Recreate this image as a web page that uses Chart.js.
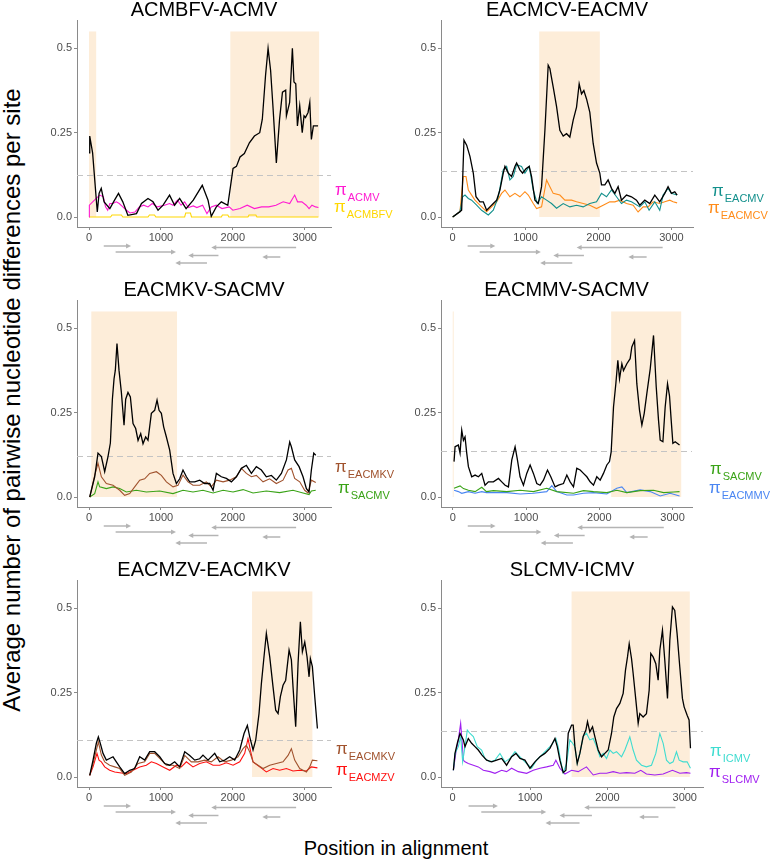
<!DOCTYPE html>
<html>
<head>
<meta charset="utf-8">
<script src="https://cdn.jsdelivr.net/npm/chart.js@4.4.1/dist/chart.umd.min.js"></script>
<style>
html,body{margin:0;padding:0;background:#fff;}
body{width:777px;height:862px;position:relative;overflow:hidden;font-family:"Liberation Sans",Arial,sans-serif;}
canvas{position:absolute;}
#xtitle{position:absolute;left:196px;width:400px;top:838px;text-align:center;font-size:20px;line-height:20px;color:#000;white-space:nowrap;}
#ytitle{position:absolute;left:-338px;top:387px;width:700px;height:26px;line-height:26px;text-align:center;font-size:24px;color:#000;white-space:nowrap;transform:rotate(-90deg);transform-origin:50% 50%;}
</style>
</head>
<body>
<div id="ytitle">Average number of pairwise nucleotide differences per site</div>
<div id="xtitle">Position in alignment</div>
<script>
// ---------------- DATA ----------------
const PANEL_TITLES = ['ACMBFV-ACMV','EACMCV-EACMV','EACMKV-SACMV','EACMMV-SACMV','EACMZV-EACMKV','SLCMV-ICMV'];
const Y_TICKS = [0, 0.25, 0.5];
const Y_TICK_LABELS = ['0.0', '0.25', '0.5'];
const X_TICKS = [0, 1000, 2000, 3000];

// genes (DNA-A ORFs) drawn as arrows under each panel
const GENE_NAMES = ['AV2','AV1','AC3','AC1','AC4','AC2'];
const GENE_START = [205, 370, 1800, 2880, 2660, 1640];
const GENE_END   = [585, 1210, 1380, 1700, 2410, 1200];

// Panel 1: ACMBFV-ACMV
const P1_REGIONS = [[0, 100], [1965, 3200]];
const P1_THRESHOLD = 0.124;
const P1_DXY_POS = [0,10,50,115,140,170,210,290,355,410,470,540,660,730,820,890,960,1030,1120,1190,1260,1350,1450,1575,1655,1700,1770,1840,1930,2003,2050,2100,2160,2230,2300,2374,2410,2455,2490,2525,2560,2605,2650,2690,2735,2745,2790,2828,2850,2875,2898,2930,2965,2990,3010,3046,3070,3092,3120,3185];
const P1_DXY_VAL = [0.19,0.24,0.19,0.015,0.07,0.085,0.045,0.025,0.05,0.07,0.045,0.005,0.01,0.04,0.055,0.045,0.02,0.035,0.065,0.035,0.055,0.025,0.05,0.094,0.05,0.002,0.03,0.045,0.035,0.144,0.15,0.178,0.188,0.22,0.24,0.25,0.29,0.42,0.5,0.435,0.32,0.16,0.29,0.37,0.376,0.30,0.34,0.5,0.40,0.395,0.27,0.33,0.25,0.30,0.295,0.31,0.34,0.23,0.27,0.27];
const P1_PI_ACMV_POS = [0,5,100,150,200,230,260,290,330,380,420,470,520,570,640,700,760,820,880,950,1050,1120,1170,1230,1280,1330,1380,1450,1500,1580,1640,1700,1770,1850,1950,2000,2100,2200,2300,2400,2500,2600,2700,2790,2860,2900,2960,3020,3060,3100,3150,3190];
const P1_PI_ACMV_VAL = [0,0.035,0.055,0.065,0.06,0.03,0.02,0.04,0.04,0.045,0.04,0.03,0.02,0.012,0.015,0.03,0.035,0.03,0.04,0.03,0.035,0.04,0.035,0.05,0.035,0.045,0.028,0.033,0.028,0.035,0.01,0.03,0.035,0.025,0.03,0.02,0.025,0.035,0.025,0.03,0.03,0.035,0.045,0.04,0.065,0.045,0.045,0.035,0.025,0.035,0.03,0.028];
const P1_PI_ACMBFV_POS = [0,300,320,450,470,820,840,910,930,1330,1345,1410,1425,1840,1855,1930,1945,2210,2225,2320,2335,3190];
const P1_PI_ACMBFV_VAL = [0,0,0.006,0.006,0,0,0.006,0.006,0,0,0.012,0.012,0,0,0.006,0.006,0,0,0.006,0.006,0,0];

// Panel 2: EACMCV-EACMV
const P2_REGIONS = [[1187, 2018]];
const P2_THRESHOLD = 0.137;
const P2_DXY_POS = [0,100,123,155,192,237,283,320,374,420,466,511,557,603,648,694,717,763,808,854,877,922,959,1005,1050,1082,1128,1174,1219,1265,1310,1333,1379,1425,1470,1516,1562,1607,1653,1699,1735,1767,1799,1836,1881,1927,1973,2018,2041,2087,2132,2178,2224,2269,2315,2384,2452,2521,2566,2635,2703,2772,2840,2909,2954,3000,3046,3078];
const P2_DXY_VAL = [0,0.016,0.02,0.228,0.213,0.18,0.13,0.06,0.045,0.045,0.02,0.03,0.04,0.05,0.08,0.13,0.15,0.13,0.12,0.15,0.16,0.14,0.13,0.143,0.15,0.12,0.05,0.04,0.09,0.257,0.45,0.44,0.385,0.327,0.257,0.24,0.247,0.237,0.287,0.326,0.395,0.365,0.375,0.35,0.31,0.218,0.16,0.13,0.095,0.095,0.11,0.085,0.07,0.09,0.05,0.065,0.06,0.05,0.035,0.05,0.04,0.065,0.045,0.07,0.09,0.07,0.075,0.065];
const P2_PI_EACMV_POS = [0,100,137,169,215,260,329,397,489,557,626,694,740,785,831,877,945,991,1050,1105,1160,1219,1288,1356,1425,1516,1607,1699,1790,1881,1973,2041,2110,2178,2247,2315,2384,2452,2566,2635,2694,2772,2840,2886,2954,3000,3078];
const P2_PI_EACMV_VAL = [0,0.016,0.06,0.065,0.055,0.05,0.035,0.02,0.006,0.02,0.06,0.14,0.15,0.11,0.12,0.155,0.15,0.13,0.15,0.08,0.04,0.06,0.05,0.04,0.026,0.04,0.03,0.035,0.03,0.04,0.045,0.07,0.06,0.08,0.06,0.04,0.05,0.045,0.03,0.045,0.02,0.045,0.02,0.065,0.085,0.07,0.065];
const P2_PI_EACMCV_POS = [0,100,146,183,215,260,306,374,466,534,603,671,717,785,854,922,991,1037,1105,1151,1219,1288,1333,1379,1470,1539,1630,1699,1790,1881,1973,2064,2155,2224,2292,2384,2475,2543,2612,2680,2749,2840,2909,2977,3023,3078];
const P2_PI_EACMCV_VAL = [0,0.016,0.12,0.12,0.08,0.065,0.05,0.035,0.016,0.03,0.045,0.07,0.08,0.06,0.07,0.06,0.075,0.065,0.04,0.025,0.03,0.11,0.09,0.07,0.065,0.05,0.05,0.045,0.04,0.035,0.025,0.035,0.045,0.045,0.05,0.04,0.035,0.015,0.03,0.03,0.045,0.04,0.045,0.05,0.045,0.042];

// Panel 3: EACMKV-SACMV
const P3_REGIONS = [[32, 1224]];
const P3_THRESHOLD = 0.122;
const P3_DXY_POS = [10,79,125,172,218,264,297,325,348,366,389,417,450,487,510,542,575,612,649,682,719,751,788,820,867,913,946,974,1006,1038,1076,1122,1168,1215,1261,1307,1354,1400,1470,1539,1608,1678,1725,1771,1840,1910,1980,2049,2119,2188,2258,2327,2397,2466,2536,2605,2675,2745,2791,2814,2860,2921,2976,3023,3060,3092,3125,3153];
const P3_DXY_VAL = [0,0.06,0.13,0.12,0.075,0.12,0.16,0.29,0.35,0.376,0.455,0.376,0.31,0.213,0.29,0.31,0.297,0.218,0.203,0.168,0.188,0.158,0.178,0.168,0.248,0.257,0.287,0.257,0.248,0.208,0.178,0.139,0.07,0.04,0.054,0.08,0.06,0.045,0.045,0.05,0.04,0.04,0.02,0.07,0.06,0.055,0.045,0.06,0.085,0.094,0.07,0.09,0.08,0.06,0.064,0.05,0.07,0.11,0.163,0.149,0.11,0.09,0.06,0.025,0.015,0.08,0.13,0.124];
const P3_PI_EACMKV_POS = [10,79,125,172,241,334,427,496,566,635,705,774,844,937,1006,1076,1168,1238,1307,1377,1446,1539,1632,1701,1771,1864,1956,2049,2119,2188,2258,2327,2420,2512,2605,2698,2768,2814,2860,2930,2999,3046,3092,3153];
const P3_PI_EACMKV_VAL = [0,0.064,0.1,0.06,0.04,0.035,0.02,0.005,0.01,0.03,0.05,0.054,0.07,0.075,0.064,0.045,0.03,0.035,0.065,0.045,0.035,0.035,0.045,0.03,0.05,0.045,0.05,0.06,0.085,0.07,0.06,0.064,0.045,0.054,0.04,0.05,0.08,0.085,0.055,0.045,0.02,0.012,0.05,0.043];
const P3_PI_SACMV_POS = [10,79,125,148,241,334,427,519,658,797,983,1168,1307,1446,1585,1725,1864,2003,2142,2281,2466,2651,2837,2976,3060,3092,3153];
const P3_PI_SACMV_VAL = [0,0.01,0.045,0.03,0.025,0.03,0.025,0.015,0.02,0.015,0.018,0.01,0.02,0.015,0.02,0.012,0.02,0.015,0.022,0.012,0.018,0.013,0.02,0.012,0.007,0.018,0.02];

// Panel 4: EACMMV-SACMV
const P4_REGIONS = [[0, 10], [2162, 3118]];
const P4_THRESHOLD = 0.136;
const P4_DXY_POS = [18,32,77,100,123,146,168,191,214,259,305,351,396,441,487,555,624,669,715,760,806,851,883,919,965,1010,1056,1101,1147,1192,1238,1293,1338,1397,1443,1511,1557,1602,1648,1693,1739,1784,1830,1875,1921,1966,2012,2057,2103,2139,2162,2194,2226,2253,2276,2308,2330,2376,2421,2444,2481,2512,2549,2581,2613,2649,2695,2740,2777,2808,2831,2868,2899,2931,2958,2981,3004,3036,3095];
const P4_DXY_VAL = [0.105,0.149,0.154,0.13,0.198,0.168,0.178,0.13,0.09,0.06,0.065,0.06,0.07,0.035,0.045,0.045,0.055,0.045,0.035,0.03,0.11,0.149,0.11,0.06,0.035,0.07,0.095,0.07,0.04,0.035,0.05,0.08,0.06,0.03,0.035,0.04,0.065,0.045,0.03,0.085,0.08,0.07,0.06,0.045,0.035,0.06,0.05,0.07,0.095,0.105,0.134,0.267,0.336,0.405,0.35,0.395,0.375,0.395,0.41,0.445,0.464,0.336,0.257,0.213,0.248,0.307,0.38,0.479,0.326,0.228,0.169,0.164,0.267,0.336,0.30,0.228,0.159,0.164,0.154];
const P4_PI_SACMV_POS = [18,100,146,214,305,396,460,555,738,919,1101,1283,1420,1648,1784,1921,2103,2239,2376,2558,2740,2877,3013,3095];
const P4_PI_SACMV_VAL = [0.026,0.033,0.025,0.02,0.016,0.029,0.016,0.019,0.016,0.02,0.016,0.026,0.016,0.011,0.019,0.016,0.013,0.02,0.013,0.019,0.02,0.013,0.015,0.016];
const P4_PI_EACMMV_POS = [18,77,123,214,305,396,460,738,919,1101,1283,1352,1420,1557,1648,1784,1921,2103,2239,2308,2376,2558,2695,2831,2968,3095];
const P4_PI_EACMMV_VAL = [0.02,0.016,0.011,0.016,0.011,0.016,0.013,0.013,0.009,0.011,0.016,0.034,0.016,0.006,0.006,0.011,0.013,0.009,0.026,0.03,0.013,0.021,0.016,0.003,0.011,0.003];

// Panel 5: EACMZV-EACMKV
const P5_REGIONS = [[2267, 3106]];
const P5_THRESHOLD = 0.109;
const P5_DXY_POS = [10,56,102,130,158,195,241,287,334,380,427,496,566,635,705,774,844,913,983,1052,1122,1191,1261,1331,1400,1470,1539,1585,1655,1748,1817,1887,1956,2026,2096,2156,2202,2235,2281,2318,2364,2397,2429,2466,2513,2559,2596,2629,2661,2698,2735,2782,2814,2837,2874,2907,2939,2967,3000,3032,3060,3078,3106,3139,3176];
const P5_DXY_VAL = [0.005,0.05,0.1,0.119,0.099,0.07,0.05,0.055,0.06,0.045,0.03,0.01,0.02,0.025,0.06,0.05,0.075,0.075,0.06,0.04,0.035,0.045,0.03,0.075,0.064,0.05,0.054,0.065,0.05,0.07,0.045,0.05,0.06,0.05,0.08,0.129,0.153,0.119,0.08,0.109,0.188,0.277,0.347,0.426,0.356,0.267,0.198,0.188,0.238,0.272,0.287,0.376,0.347,0.267,0.149,0.337,0.46,0.371,0.40,0.356,0.297,0.351,0.327,0.238,0.144];
const P5_PI_EACMKV_POS = [10,56,102,130,172,218,287,357,427,496,589,682,774,844,913,983,1076,1168,1261,1331,1423,1516,1608,1701,1794,1887,1980,2072,2142,2188,2235,2281,2350,2420,2513,2605,2698,2768,2814,2860,2930,3023,3069,3106,3176];
const P5_PI_EACMKV_VAL = [0.005,0.04,0.08,0.104,0.065,0.045,0.035,0.03,0.025,0.005,0.015,0.04,0.045,0.07,0.07,0.055,0.035,0.035,0.025,0.064,0.045,0.045,0.05,0.045,0.06,0.045,0.05,0.06,0.084,0.094,0.074,0.045,0.035,0.025,0.035,0.04,0.045,0.064,0.084,0.05,0.025,0.015,0.03,0.05,0.048];
const P5_PI_EACMZV_POS = [10,56,111,139,172,218,287,357,450,519,612,705,797,867,937,1030,1122,1215,1284,1354,1446,1539,1632,1725,1817,1910,2003,2096,2165,2211,2244,2281,2374,2466,2559,2651,2745,2837,2930,3023,3092,3176];
const P5_PI_EACMZV_VAL = [0.005,0.03,0.07,0.05,0.045,0.03,0.02,0.015,0.012,0.01,0.02,0.03,0.035,0.045,0.04,0.03,0.02,0.035,0.03,0.045,0.03,0.04,0.045,0.035,0.035,0.042,0.035,0.045,0.07,0.114,0.08,0.045,0.03,0.015,0.025,0.02,0.025,0.018,0.02,0.018,0.03,0.027];

// Panel 6: SLCMV-ICMV
const P6_REGIONS = [[1537, 3065]];
const P6_THRESHOLD = 0.136;
const P6_DXY_POS = [9,30,60,95,116,138,159,202,245,288,331,379,439,504,568,633,697,762,818,870,934,999,1063,1128,1192,1257,1322,1352,1386,1429,1464,1494,1537,1558,1580,1610,1644,1687,1722,1743,1773,1808,1838,1881,1924,1967,2010,2053,2083,2118,2161,2204,2234,2260,2282,2312,2333,2368,2398,2419,2462,2505,2540,2561,2591,2626,2656,2678,2712,2742,2777,2807,2841,2871,2901,2936,2970,2992,3031,3056,3074];
const P6_DXY_VAL = [0.02,0.07,0.1,0.129,0.12,0.11,0.09,0.114,0.1,0.09,0.08,0.065,0.05,0.045,0.05,0.055,0.035,0.06,0.07,0.055,0.05,0.026,0.045,0.06,0.07,0.085,0.114,0.09,0.05,0.013,0.02,0.13,0.154,0.154,0.09,0.04,0.07,0.12,0.139,0.164,0.134,0.149,0.12,0.08,0.06,0.07,0.08,0.129,0.178,0.203,0.218,0.248,0.317,0.356,0.395,0.351,0.307,0.228,0.159,0.188,0.178,0.188,0.257,0.366,0.356,0.336,0.287,0.376,0.435,0.346,0.233,0.405,0.504,0.494,0.425,0.326,0.233,0.208,0.183,0.169,0.085];
const P6_PI_ICMV_POS = [9,30,73,103,129,159,189,224,267,318,374,417,482,547,611,676,740,805,870,956,1020,1085,1149,1214,1278,1334,1364,1394,1429,1472,1515,1550,1580,1610,1644,1687,1730,1773,1817,1860,1903,1946,1989,2032,2075,2118,2183,2226,2290,2333,2376,2441,2505,2570,2626,2678,2721,2764,2807,2850,2893,2928,2979,3031,3074];
const P6_PI_ICMV_VAL = [0.02,0.07,0.09,0.12,0.045,0.09,0.139,0.129,0.12,0.09,0.08,0.055,0.045,0.05,0.07,0.045,0.055,0.075,0.06,0.04,0.026,0.05,0.065,0.08,0.095,0.114,0.09,0.05,0.013,0.04,0.11,0.1,0.09,0.04,0.07,0.12,0.13,0.11,0.114,0.09,0.06,0.07,0.055,0.08,0.07,0.075,0.06,0.08,0.119,0.08,0.05,0.035,0.03,0.035,0.07,0.129,0.1,0.05,0.04,0.045,0.075,0.05,0.045,0.045,0.026];
const P6_PI_SLCMV_POS = [9,43,73,103,120,138,159,202,267,331,396,482,547,633,697,762,848,956,1042,1128,1214,1300,1334,1386,1451,1537,1623,1730,1817,1903,1989,2075,2161,2247,2355,2432,2505,2613,2721,2841,2936,3023,3074];
const P6_PI_SLCMV_VAL = [0.02,0.075,0.11,0.159,0.11,0.05,0.045,0.04,0.035,0.03,0.02,0.016,0.011,0.02,0.016,0.026,0.016,0.011,0.02,0.026,0.03,0.035,0.05,0.026,0.009,0.02,0.016,0.03,0.006,0.011,0.011,0.016,0.011,0.013,0.011,0.02,0.009,0.006,0.009,0.02,0.011,0.013,0.011];

// ---------------- STYLE / LAYOUT ----------------
const COL = {
  dxy:'#000000', ACMV:'#ff1ad1', ACMBFV:'#ffd700', EACMV:'#13908c', EACMCV:'#ff8c1a',
  EACMKV:'#a0522d', SACMV:'#3aa317', EACMMV:'#4a86f2', EACMZV:'#ff1010', ICMV:'#3fdcd0', SLCMV:'#a020f0'
};
const SHADE = '#fdedd9';
const FONT = '"Liberation Sans", Arial, sans-serif';
const GENE_LANE_PX = [19, 25, 28.5, 20.5, 30, 36];
const PLOT_H = 207;
const Y_MIN = -0.0296, Y_MAX = 0.584;

const panels = [
  {box:{l:77,r:331,t:20}, xr:[-167,3365], regions:P1_REGIONS, thr:P1_THRESHOLD,
   series:[{p:P1_DXY_POS,v:P1_DXY_VAL,c:COL.dxy,w:1.3},{p:P1_PI_ACMV_POS,v:P1_PI_ACMV_VAL,c:COL.ACMV,w:1.1},{p:P1_PI_ACMBFV_POS,v:P1_PI_ACMBFV_VAL,c:COL.ACMBFV,w:1.1}],
   labels:[{s:'ACMV',c:COL.ACMV,dx:4,dy:-32},{s:'ACMBFV',c:COL.ACMBFV,dx:3,dy:-15}]},
  {box:{l:441,r:693,t:20}, xr:[-160,3296], regions:P2_REGIONS, thr:P2_THRESHOLD,
   series:[{p:P2_DXY_POS,v:P2_DXY_VAL,c:COL.dxy,w:1.3},{p:P2_PI_EACMV_POS,v:P2_PI_EACMV_VAL,c:COL.EACMV,w:1.1},{p:P2_PI_EACMCV_POS,v:P2_PI_EACMCV_VAL,c:COL.EACMCV,w:1.1}],
   labels:[{s:'EACMV',c:COL.EACMV,dx:19,dy:-31},{s:'EACMCV',c:COL.EACMCV,dx:15,dy:-14}]},
  {box:{l:77,r:331,t:300}, xr:[-167,3365], regions:P3_REGIONS, thr:P3_THRESHOLD,
   series:[{p:P3_DXY_POS,v:P3_DXY_VAL,c:COL.dxy,w:1.3},{p:P3_PI_EACMKV_POS,v:P3_PI_EACMKV_VAL,c:COL.EACMKV,w:1.1},{p:P3_PI_SACMV_POS,v:P3_PI_SACMV_VAL,c:COL.SACMV,w:1.1}],
   labels:[{s:'EACMKV',c:COL.EACMKV,dx:4,dy:-35},{s:'SACMV',c:COL.SACMV,dx:7,dy:-14}]},
  {box:{l:441,r:692,t:300}, xr:[-160,3265], regions:P4_REGIONS, thr:P4_THRESHOLD,
   series:[{p:P4_DXY_POS,v:P4_DXY_VAL,c:COL.dxy,w:1.3},{p:P4_PI_SACMV_POS,v:P4_PI_SACMV_VAL,c:COL.SACMV,w:1.1},{p:P4_PI_EACMMV_POS,v:P4_PI_EACMMV_VAL,c:COL.EACMMV,w:1.1}],
   labels:[{s:'SACMV',c:COL.SACMV,dx:18,dy:-33},{s:'EACMMV',c:COL.EACMMV,dx:17,dy:-14}]},
  {box:{l:77,r:331,t:580}, xr:[-167,3365], regions:P5_REGIONS, thr:P5_THRESHOLD,
   series:[{p:P5_DXY_POS,v:P5_DXY_VAL,c:COL.dxy,w:1.3},{p:P5_PI_EACMKV_POS,v:P5_PI_EACMKV_VAL,c:COL.EACMKV,w:1.1},{p:P5_PI_EACMZV_POS,v:P5_PI_EACMZV_VAL,c:COL.EACMZV,w:1.1}],
   labels:[{s:'EACMKV',c:COL.EACMKV,dx:5,dy:-33},{s:'EACMZV',c:COL.EACMZV,dx:5,dy:-12}]},
  {box:{l:441,r:703,t:580}, xr:[-151,3236], regions:P6_REGIONS, thr:P6_THRESHOLD,
   series:[{p:P6_DXY_POS,v:P6_DXY_VAL,c:COL.dxy,w:1.3},{p:P6_PI_ICMV_POS,v:P6_PI_ICMV_VAL,c:COL.ICMV,w:1.1},{p:P6_PI_SLCMV_POS,v:P6_PI_SLCMV_VAL,c:COL.SLCMV,w:1.1}],
   labels:[{s:'ICMV',c:COL.ICMV,dx:7,dy:-31},{s:'SLCMV',c:COL.SLCMV,dx:6,dy:-10}]}
];

const Y_AXIS_W = 45, TOP_PAD = 20, RIGHT_PAD = 90, X_AXIS_H = 18, BOTTOM_PAD = 32;

panels.forEach((pn, idx) => {
  const cv = document.createElement('canvas');
  const W = (pn.box.r - pn.box.l) + Y_AXIS_W + RIGHT_PAD;
  const H = TOP_PAD + PLOT_H + X_AXIS_H + BOTTOM_PAD;
  cv.width = W; cv.height = H;
  cv.style.width = W + 'px'; cv.style.height = H + 'px';
  cv.style.left = (pn.box.l - Y_AXIS_W) + 'px';
  cv.style.top = (pn.box.t - TOP_PAD) + 'px';
  document.body.appendChild(cv);

  const decor = {
    id: 'decor' + idx,
    beforeDatasetsDraw(chart) {
      const {ctx, chartArea:a, scales:{x, y}} = chart;
      ctx.save();
      ctx.beginPath(); ctx.rect(a.left, a.top, a.right - a.left, a.bottom - a.top); ctx.clip();
      ctx.fillStyle = SHADE;
      pn.regions.forEach(([s, e]) => {
        const x0 = x.getPixelForValue(s), x1 = x.getPixelForValue(e);
        const y0 = y.getPixelForValue(0.55), y1 = y.getPixelForValue(0);
        ctx.fillRect(x0, y0, Math.max(1, x1 - x0), y1 - y0);
      });
      ctx.strokeStyle = '#c4c4c4'; ctx.lineWidth = 1; ctx.setLineDash([6, 4]);
      const ty = Math.round(y.getPixelForValue(pn.thr)) + 0.5;
      ctx.beginPath(); ctx.moveTo(a.left, ty); ctx.lineTo(a.right, ty); ctx.stroke();
      ctx.restore();
    },
    afterDraw(chart) {
      const {ctx, chartArea:a, scales:{x}} = chart;
      ctx.save();
      // title
      ctx.fillStyle = '#000'; ctx.font = '20px ' + FONT;
      ctx.textAlign = 'center'; ctx.textBaseline = 'alphabetic';
      ctx.fillText(PANEL_TITLES[idx], (a.left + a.right) / 2, a.top - 4);
      // pi labels
      ctx.textAlign = 'left';
      pn.labels.forEach(lb => {
        const lx = a.right + lb.dx, ly = a.bottom + lb.dy;
        ctx.fillStyle = lb.c;
        ctx.font = '17px ' + FONT;
        ctx.fillText('π', lx, ly);
        const w = ctx.measureText('π').width;
        ctx.font = '11px ' + FONT;
        ctx.fillText(lb.s, lx + w + 1, ly + 6);
      });
      // gene arrows
      ctx.strokeStyle = '#b4b4b4'; ctx.fillStyle = '#b4b4b4'; ctx.lineWidth = 1.5;
      GENE_NAMES.forEach((g, i) => {
        const x0 = x.getPixelForValue(GENE_START[i]);
        const x1 = x.getPixelForValue(GENE_END[i]);
        const yy = a.bottom + GENE_LANE_PX[i];
        const dir = x1 > x0 ? 1 : -1;
        ctx.beginPath(); ctx.moveTo(x0, yy); ctx.lineTo(x1 - dir * 3, yy); ctx.stroke();
        ctx.beginPath();
        ctx.moveTo(x1, yy); ctx.lineTo(x1 - dir * 5, yy - 2.5); ctx.lineTo(x1 - dir * 5, yy + 2.5);
        ctx.closePath(); ctx.fill();
      });
      ctx.restore();
    }
  };

  new Chart(cv, {
    type: 'line',
    data: {
      datasets: pn.series.map(s => ({
        data: s.p.map((px, i) => ({x: px, y: s.v[i]})),
        borderColor: s.c, borderWidth: s.w, pointRadius: 0, fill: false, tension: 0
      }))
    },
    options: {
      responsive: false, animation: false, devicePixelRatio: 1,
      layout: {padding: {top: TOP_PAD, left: 0, right: RIGHT_PAD, bottom: BOTTOM_PAD}},
      plugins: {legend: {display: false}, tooltip: {enabled: false}, title: {display: false}},
      scales: {
        x: {
          type: 'linear', min: pn.xr[0], max: pn.xr[1],
          afterBuildTicks: sc => { sc.ticks = X_TICKS.map(v => ({value: v})); },
          afterFit: sc => { sc.height = X_AXIS_H; },
          ticks: {color: '#4d4d4d', font: {family: FONT, size: 11}, padding: 1, maxRotation: 0,
                  callback: v => String(v)},
          grid: {drawOnChartArea: false, drawTicks: true, tickLength: 3, color: '#8a8a8a'},
          border: {display: true, color: '#8a8a8a', width: 1}
        },
        y: {
          type: 'linear', min: Y_MIN, max: Y_MAX,
          afterBuildTicks: sc => { sc.ticks = Y_TICKS.map(v => ({value: v})); },
          afterFit: sc => { sc.width = Y_AXIS_W; },
          ticks: {color: '#4d4d4d', font: {family: FONT, size: 11}, padding: 2,
                  callback: v => Y_TICK_LABELS[Y_TICKS.indexOf(v)]},
          grid: {drawOnChartArea: false, drawTicks: true, tickLength: 3, color: '#8a8a8a'},
          border: {display: true, color: '#8a8a8a', width: 1}
        }
      }
    },
    plugins: [decor]
  });
});
</script>
</body>
</html>
